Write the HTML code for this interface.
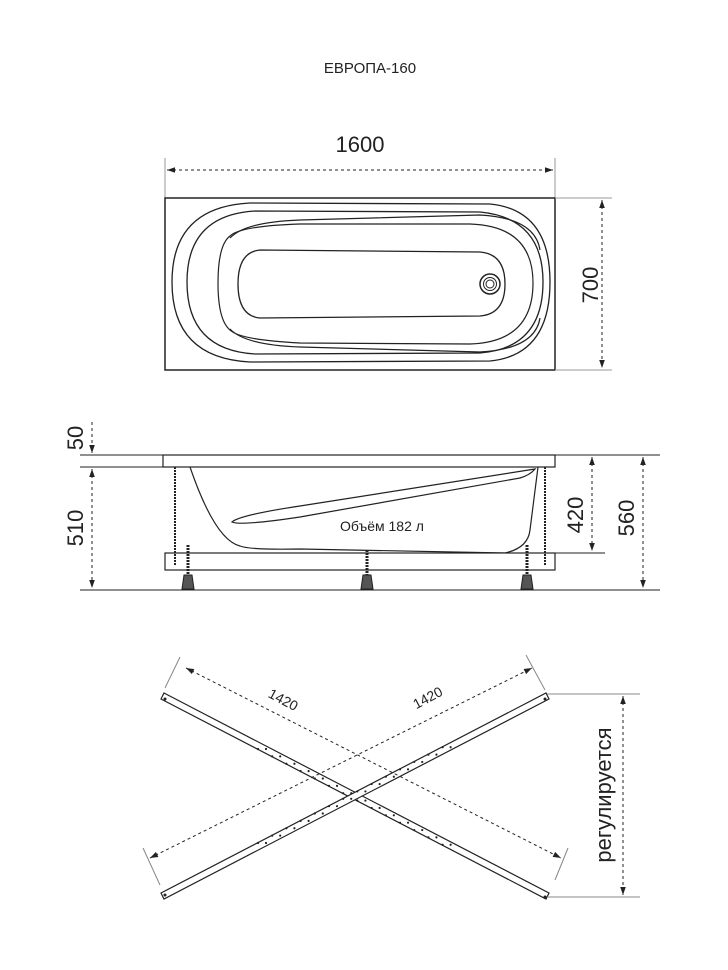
<!DOCTYPE html>
<html><head><meta charset="utf-8"><style>body{margin:0;background:#fff}svg{display:block}text{font-family:"Liberation Sans","DejaVu Sans",sans-serif;fill:#222}</style></head><body>
<svg width="728" height="970" viewBox="0 0 728 970" xmlns="http://www.w3.org/2000/svg">
<defs><marker id="a" viewBox="0 0 10 10" refX="10" refY="5" markerWidth="8" markerHeight="8" orient="auto-start-reverse"><path d="M0,1.5 L10,5 L0,8.5z" fill="#222"/></marker></defs>
<text x="370" y="73" font-size="15" text-anchor="middle">ЕВРОПА-160</text>
<!-- top view -->
<g stroke="#222" fill="none" stroke-width="1">
<line x1="165" y1="158" x2="165" y2="198" stroke="#999"/><line x1="555" y1="158" x2="555" y2="198" stroke="#999"/>
<line x1="167" y1="170" x2="553" y2="170" stroke-dasharray="3,3" marker-start="url(#a)" marker-end="url(#a)"/>
<rect x="165" y="198" width="390" height="172" stroke-width="1.5"/>
<line x1="555" y1="198" x2="612" y2="198" stroke="#999"/><line x1="555" y1="370" x2="612" y2="370" stroke="#999"/>
<line x1="602" y1="200" x2="602" y2="368" stroke-dasharray="3,3" marker-start="url(#a)" marker-end="url(#a)"/>
<path d="M250,203 L490,204 Q550,210 550,282 Q550,355 490,361 L250,362 Q172,358 172,282 Q172,207 250,203z" stroke-width="1.3"/>
<path d="M255,211 L480,212 Q543,218 543,282 Q543,348 480,353 L255,354 Q187,350 187,282 Q187,215 255,211z" stroke-width="1.3"/>
<path d="M230,236 Q240,226 300,224 L470,224 Q533,226 533,283 Q533,342 470,344 L300,343 Q240,340 230,330 Q218,320 218,283 Q218,245 230,236z" stroke-width="1.2"/>
<path d="M230,238 Q245,222 300,220 L480,215 Q535,218 540,250" stroke-width="1.2"/>
<path d="M230,329 Q245,345 300,347 L480,352 Q535,349 540,318" stroke-width="1.2"/>
<path d="M260,250 L480,252 Q505,254 505,284 Q505,314 480,316 L260,318 Q238,316 238,284 Q238,252 260,250z" stroke-width="1.3"/>
<circle cx="490" cy="284" r="10" stroke-width="1.5"/><circle cx="490" cy="284" r="6.5"/><circle cx="490" cy="284" r="4"/>
</g>
<text x="360" y="152" font-size="22" text-anchor="middle">1600</text>
<text transform="translate(598,285) rotate(-90)" font-size="22" text-anchor="middle">700</text>
<!-- side view -->
<g stroke="#222" fill="none" stroke-width="1">
<line x1="80" y1="455" x2="660" y2="455"/><line x1="80" y1="467" x2="165" y2="467"/>
<line x1="80" y1="590" x2="660" y2="590"/>
<rect x="163" y="455" width="392" height="12" fill="#fff" stroke-width="1.2"/>
<path d="M190,467 Q215,540 240,546 Q250,550 300,549 L505,553 Q528,548 530,530 Q535,490 538,467" stroke-width="1.2"/>
<path d="M232,522 Q240,515 300,506 L535,469 Q530,475 520,478 L300,517 Q240,526 232,522z" stroke-width="1.2"/>
<rect x="165" y="553" width="390" height="17" fill="#fff" stroke-width="1.2"/>
<line x1="175" y1="467" x2="175" y2="565" stroke-width="2" stroke-dasharray="2,1"/>
<line x1="545" y1="467" x2="545" y2="565" stroke-width="2" stroke-dasharray="2,1"/>
<line x1="188" y1="545" x2="188" y2="575" stroke-width="3" stroke-dasharray="2,1"/>
<line x1="367" y1="550" x2="367" y2="575" stroke-width="3" stroke-dasharray="2,1"/>
<line x1="527" y1="545" x2="527" y2="575" stroke-width="3" stroke-dasharray="2,1"/>
<path d="M184,575 L192,575 L194,589 L182,589z M363,575 L371,575 L373,589 L361,589z M523,575 L531,575 L533,589 L521,589z" fill="#555"/>
<line x1="555" y1="553" x2="605" y2="553"/>
<line x1="92" y1="422" x2="92" y2="453" stroke-dasharray="3,3" marker-end="url(#a)"/>
<line x1="92" y1="469" x2="92" y2="588" stroke-dasharray="3,3" marker-start="url(#a)" marker-end="url(#a)"/>
<line x1="592" y1="457" x2="592" y2="551" stroke-dasharray="3,3" marker-start="url(#a)" marker-end="url(#a)"/>
<line x1="643" y1="457" x2="643" y2="588" stroke-dasharray="3,3" marker-start="url(#a)" marker-end="url(#a)"/>
</g>
<text transform="translate(83,438) rotate(-90)" font-size="22" text-anchor="middle">50</text>
<text transform="translate(83,528) rotate(-90)" font-size="22" text-anchor="middle">510</text>
<text transform="translate(583,515) rotate(-90)" font-size="22" text-anchor="middle">420</text>
<text transform="translate(634,518) rotate(-90)" font-size="22" text-anchor="middle">560</text>
<text x="382" y="531" font-size="14" text-anchor="middle">Объём 182 л</text>
<!-- frame -->
<g stroke="#222" fill="none" stroke-width="1">
<path d="M164,693 L549,893 L546,899 L161,699z" fill="#fff" stroke-width="1.2"/>
<path d="M161,893 L546,693 L549,699 L164,899z" fill="#fff" stroke-width="1.2"/>
<line x1="180" y1="657" x2="165" y2="688" stroke="#888"/>
<line x1="568" y1="848" x2="555" y2="880" stroke="#888"/>
<line x1="526" y1="655" x2="545" y2="690" stroke="#888"/>
<line x1="143" y1="848" x2="160" y2="885" stroke="#888"/>
<line x1="186" y1="668" x2="561" y2="858" stroke-dasharray="3,3" marker-start="url(#a)" marker-end="url(#a)"/>
<line x1="150" y1="858" x2="532" y2="668" stroke-dasharray="3,3" marker-start="url(#a)" marker-end="url(#a)"/>
<line x1="547" y1="694" x2="640" y2="694" stroke="#888"/><line x1="547" y1="897" x2="640" y2="897" stroke="#888"/>
<line x1="623" y1="696" x2="623" y2="895" stroke-dasharray="3,3" marker-start="url(#a)" marker-end="url(#a)"/>
</g>
<g fill="#222">
<circle cx="165" cy="699" r="1.5"/><circle cx="545" cy="897" r="1.5"/><circle cx="165" cy="895" r="1.5"/><circle cx="545" cy="699" r="1.5"/>
</g>
<g stroke="#222" stroke-width="2.2" stroke-linecap="round" stroke-dasharray="0,16">
<line x1="258" y1="749" x2="445" y2="846"/><line x1="266" y1="749" x2="453" y2="846"/>
<line x1="258" y1="843" x2="445" y2="746"/><line x1="266" y1="843" x2="453" y2="746"/>
</g>
<text transform="translate(281,704) rotate(28)" font-size="14" text-anchor="middle">1420</text>
<text transform="translate(430,702) rotate(-28)" font-size="14" text-anchor="middle">1420</text>
<text transform="translate(611,795) rotate(-90)" font-size="22" text-anchor="middle">регулируется</text>
</svg>
</body></html>
